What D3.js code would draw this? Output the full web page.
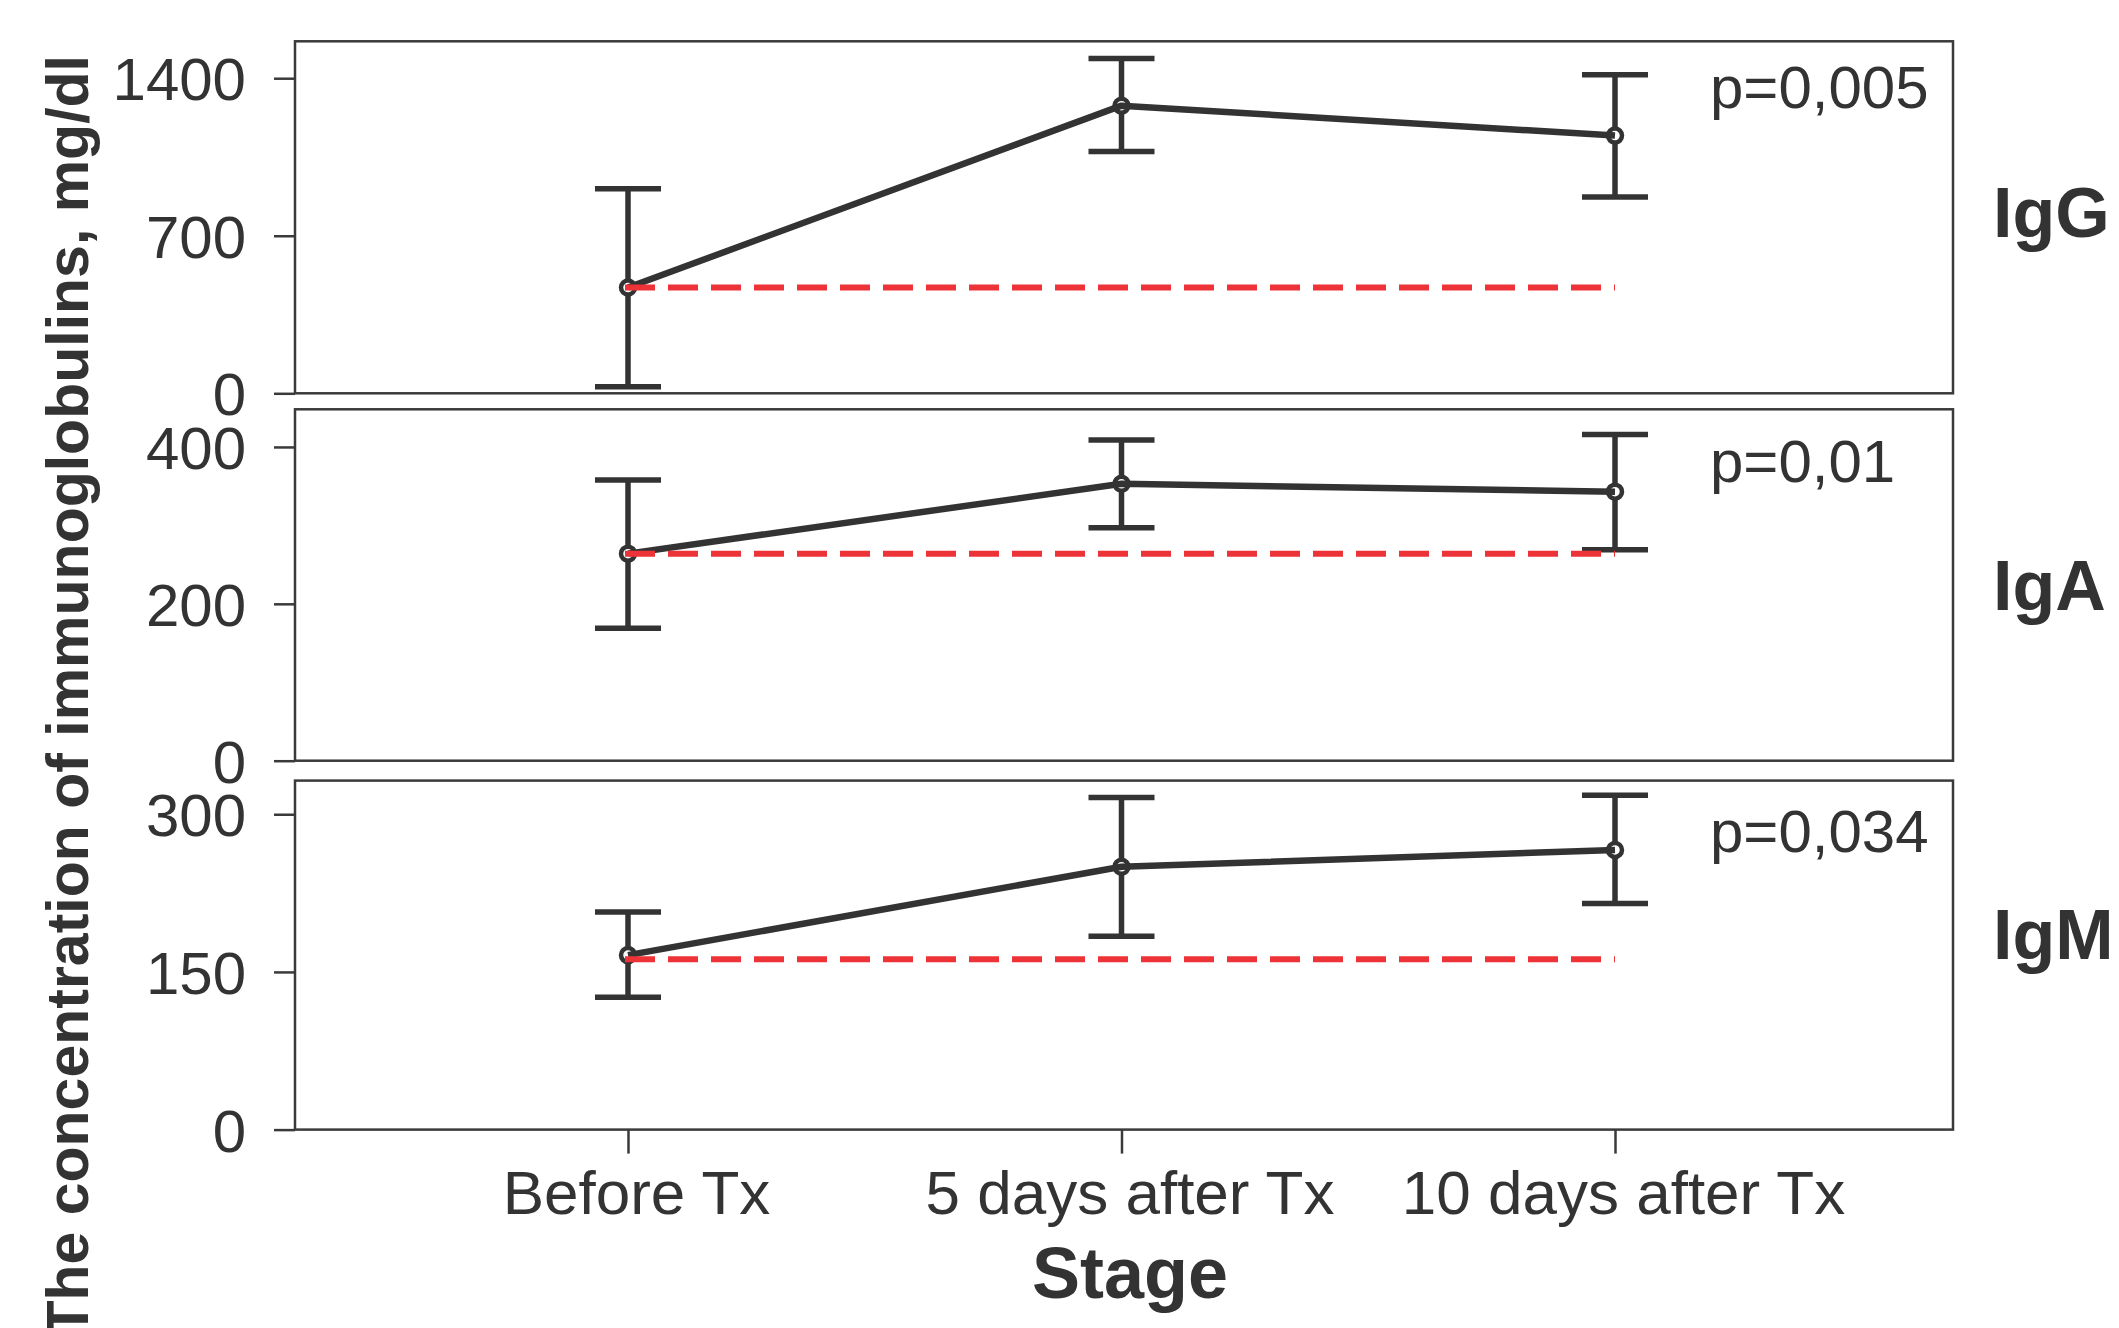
<!DOCTYPE html>
<html>
<head>
<meta charset="utf-8">
<script src="https://cdn.jsdelivr.net/npm/d3@7/dist/d3.min.js"></script>
<style>
  html, body { margin: 0; padding: 0; background: #ffffff; }
  svg { display: block; }
</style>
</head>
<body>
<script>
// ---------------- DATA ----------------
const stages = ["Before Tx", "5 days after Tx", "10 days after Tx"];
const panelNames = ["IgG", "IgA", "IgM"];
const pValues = ["p=0,005", "p=0,01", "p=0,034"];

const igGMean = [470, 1278, 1145];
const igGLow  = [29, 1074, 872];
const igGHigh = [909, 1488, 1415];
const igGRef  = 470;
const igGTicks = [0, 700, 1400];
const igGMax = 1564;

const igAMean = [264, 353, 343];
const igALow  = [169, 297, 269];
const igAHigh = [358, 409, 416];
const igARef  = 264;
const igATicks = [0, 200, 400];
const igAMax = 448;

const igMMean = [166, 250, 266];
const igMLow  = [126, 184, 215];
const igMHigh = [207, 316, 318];
const igMRef  = 162;
const igMTicks = [0, 150, 300];
const igMMax = 332;

const yTitle = "The concentration of immunoglobulins, mg/dl";
const xTitle = "Stage";

// ---------------- LAYOUT ----------------
const W = 2119, H = 1328;
const left = 295, right = 1953;
const layout = [
  { top: 41.3, bottom: 393.3, labelY: 237, pY: 108 },
  { top: 409.3, bottom: 760.7, labelY: 610, pY: 482 },
  { top: 780.6, bottom: 1129.6, labelY: 959, pY: 852 }
];
const FONT = "'Liberation Sans', Arial, Helvetica, sans-serif";
const DARK = "#333333";
const RED = "#ee3338";

const panels = [
  { name: panelNames[0], p: pValues[0], mean: igGMean, low: igGLow, high: igGHigh, ref: igGRef, ticks: igGTicks, max: igGMax },
  { name: panelNames[1], p: pValues[1], mean: igAMean, low: igALow, high: igAHigh, ref: igARef, ticks: igATicks, max: igAMax },
  { name: panelNames[2], p: pValues[2], mean: igMMean, low: igMLow, high: igMHigh, ref: igMRef, ticks: igMTicks, max: igMMax }
];

const svg = d3.select("body").append("svg")
  .attr("width", W).attr("height", H)
  .attr("font-family", FONT);

const x = d3.scalePoint().domain(stages).range([628, 1615]);
const capHalf = 33;

panels.forEach((pd, i) => {
  const L = layout[i];
  const y = d3.scaleLinear().domain([0, pd.max]).range([L.bottom, L.top]);
  const g = svg.append("g");

  // frame
  g.append("rect")
    .attr("x", left).attr("y", L.top)
    .attr("width", right - left).attr("height", L.bottom - L.top)
    .attr("fill", "none").attr("stroke", "#3a3a3a").attr("stroke-width", 2.5);

  // y axis
  const ax = g.append("g")
    .attr("transform", `translate(${left},0)`)
    .call(d3.axisLeft(y).tickValues(pd.ticks).tickSize(21).tickPadding(28).tickFormat(d3.format("d")));
  ax.select(".domain").remove();
  ax.selectAll(".tick line").attr("stroke", "#3a3a3a").attr("stroke-width", 2.5);
  ax.selectAll(".tick text")
    .attr("fill", DARK).attr("font-size", 60).attr("font-family", FONT).attr("dy", "0.36em");

  const pts = stages.map((s, k) => ({ s, m: pd.mean[k], lo: pd.low[k], hi: pd.high[k] }));

  // error bars
  g.selectAll(".ev").data(pts).join("line")
    .attr("x1", d => x(d.s)).attr("x2", d => x(d.s))
    .attr("y1", d => y(d.lo)).attr("y2", d => y(d.hi))
    .attr("stroke", DARK).attr("stroke-width", 5.5);
  ["lo", "hi"].forEach(key => {
    g.selectAll(".cap-" + key).data(pts).join("line")
      .attr("x1", d => x(d.s) - capHalf).attr("x2", d => x(d.s) + capHalf)
      .attr("y1", d => y(d[key])).attr("y2", d => y(d[key]))
      .attr("stroke", DARK).attr("stroke-width", 5.5);
  });

  // markers
  g.selectAll(".mk").data(pts).join("circle")
    .attr("cx", d => x(d.s)).attr("cy", d => y(d.m)).attr("r", 7)
    .attr("fill", "#ffffff").attr("stroke", DARK).attr("stroke-width", 4.5);

  // mean line
  g.append("path").datum(pts)
    .attr("d", d3.line().x(d => x(d.s)).y(d => y(d.m)))
    .attr("fill", "none").attr("stroke", DARK).attr("stroke-width", 6.5)
    .attr("stroke-linejoin", "round");

  // reference dashed line
  g.append("line")
    .attr("x1", x(stages[0]) - 3).attr("x2", x(stages[stages.length - 1]))
    .attr("y1", y(pd.ref)).attr("y2", y(pd.ref))
    .attr("stroke", RED).attr("stroke-width", 6).attr("stroke-dasharray", "30,13");

  // p value
  g.append("text").attr("x", 1710).attr("y", L.pY)
    .attr("font-size", 60).attr("fill", DARK).text(pd.p);

  // panel label
  g.append("text").attr("x", 1993).attr("y", L.labelY)
    .attr("font-size", 70).attr("font-weight", "bold").attr("fill", DARK).text(pd.name);

  // x axis on last panel
  if (i === panels.length - 1) {
    const xa = g.append("g")
      .attr("transform", `translate(0,${L.bottom})`)
      .call(d3.axisBottom(x).tickSize(24).tickPadding(16));
    xa.select(".domain").remove();
    xa.selectAll(".tick line").attr("stroke", "#3a3a3a").attr("stroke-width", 2.5);
    xa.selectAll(".tick text")
      .attr("fill", DARK).attr("font-size", 62).attr("font-family", FONT).attr("dx", 8);
  }
});

// axis titles
svg.append("text")
  .attr("x", 1130).attr("y", 1298)
  .attr("text-anchor", "middle")
  .attr("font-size", 72).attr("font-weight", "bold").attr("fill", DARK)
  .text(xTitle);

svg.append("text")
  .attr("transform", "translate(88,55) rotate(-90)")
  .attr("text-anchor", "end")
  .attr("font-size", 59).attr("font-weight", "bold").attr("fill", DARK)
  .text(yTitle);
</script>
</body>
</html>
